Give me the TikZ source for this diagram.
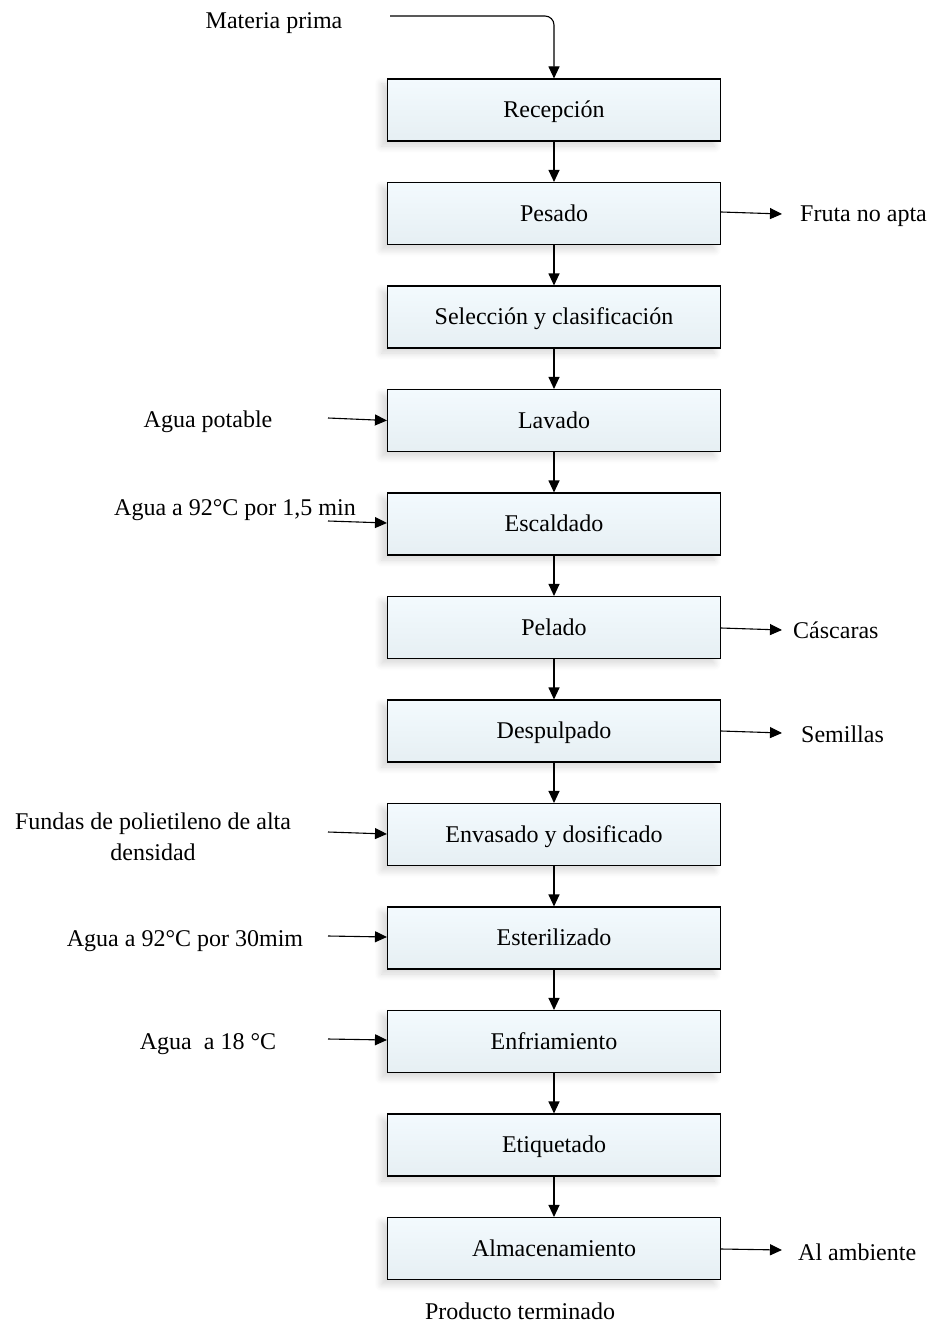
\documentclass[tikz,border=0pt]{standalone}
\usepackage{fontspec}
\setmainfont{Liberation Serif}
\usetikzlibrary{arrows.meta,shadows.blur}
\definecolor{boxtop}{RGB}{243,250,254}
\definecolor{boxbot}{RGB}{230,239,243}
\begin{document}
\begin{tikzpicture}[x=1pt,y=-1pt,
  font=\fontsize{24}{31}\selectfont,
  stage/.style={draw=black, line width=1.1pt, minimum width=333pt, minimum height=62pt,
    inner sep=0pt, text depth=0.25ex, top color=boxtop, bottom color=boxbot,
    blur shadow={shadow xshift=-6pt, shadow yshift=-5pt, shadow blur radius=7pt,
      shadow opacity=16, shadow blur steps=8}},
  flow/.style={line width=1.1pt, -{Triangle[length=12pt,width=11pt]}},
  lbl/.style={inner sep=0pt}]
\useasboundingbox (0,0) rectangle (937,1324);

% process stages
\node[stage] (rec) at (554,110) {Recepción};
\node[stage] (pes) at (554,213.5) {Pesado};
\node[stage] (sel) at (554,317) {Selección y clasificación};
\node[stage] (lav) at (554,420.5) {Lavado};
\node[stage] (esc) at (554,524) {Escaldado};
\node[stage] (pel) at (554,627.5) {Pelado};
\node[stage] (des) at (554,731) {Despulpado};
\node[stage] (env) at (554,834.5) {Envasado y dosificado};
\node[stage] (est) at (554,938) {Esterilizado};
\node[stage] (enf) at (554,1041.5) {Enfriamiento};
\node[stage] (eti) at (554,1145) {Etiquetado};
\node[stage] (alm) at (554,1248.5) {Almacenamiento};

% main flow
\foreach \a/\b in {rec/pes,pes/sel,sel/lav,lav/esc,esc/pel,pel/des,des/env,env/est,est/enf,enf/eti,eti/alm}
  \draw[flow] (\a.south) -- (\b.north);

% raw material input
\node[lbl] (mp) at (274,23) {Materia prima};
\coordinate (mpstart) at (390,16);
\draw[flow, rounded corners=9pt] (mpstart) -| (rec.north);

% inputs on the left
\node[lbl] (agua1) at (208,422) {Agua potable};
\coordinate (in1) at (328,418);
\draw[flow] (in1) -- (lav.west);

\node[lbl] (agua2) at (235,510) {Agua a 92°C por 1,5 min};
\coordinate (in2) at (328,521);
\draw[flow] (in2) -- (esc.west |- 0,523);

\node[lbl, align=center] (fundas) at (153,837) {Fundas de polietileno de alta\\densidad};
\coordinate (in3) at (328,832);
\draw[flow] (in3) -- (env.west |- 0,834);

\node[lbl] (agua3) at (185,941) {Agua a 92°C por 30mim};
\coordinate (in4) at (328,936);
\draw[flow] (in4) -- (est.west |- 0,937);

\node[lbl] (agua4) at (208,1044) {Agua~ a 18 °C};
\coordinate (in5) at (328,1039);
\draw[flow] (in5) -- (enf.west |- 0,1040);

% outputs on the right
\node[lbl, anchor=west] (fruta) at (800,216) {Fruta no apta};
\coordinate (out1) at (782,214);
\draw[flow] (pes.east |- 0,212) -- (out1);

\node[lbl, anchor=west] (casc) at (793,630) {Cáscaras};
\coordinate (out2) at (782,630);
\draw[flow] (pel.east |- 0,628) -- (out2);

\node[lbl, anchor=west] (sem) at (801,734) {Semillas};
\coordinate (out3) at (782,733);
\draw[flow] (des.east |- 0,731) -- (out3);

\node[lbl, anchor=west] (amb) at (798,1252) {Al ambiente};
\coordinate (out4) at (782,1250);
\draw[flow] (alm.east |- 0,1249) -- (out4);

% final product
\node[lbl] (prod) at (520,1311) {Producto terminado};
\end{tikzpicture}
\end{document}
